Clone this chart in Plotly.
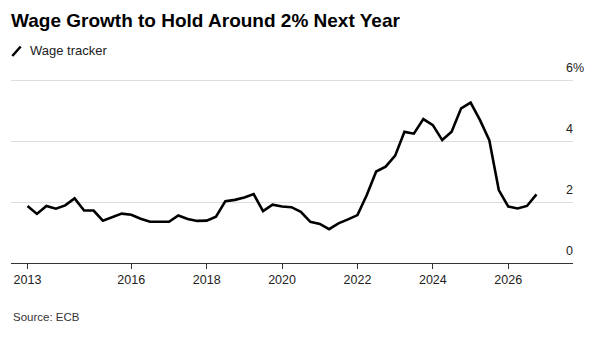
import pandas as pd
import plotly.graph_objects as go

# Quarterly euro-area wage tracker (% y/y), including forward-looking quarters
quarters = pd.date_range(start="2013-04-01", periods=55, freq="QS")
wage_tracker = [
    1.87, 1.61, 1.87, 1.78, 1.89, 2.12, 1.72, 1.72, 1.39, 1.50,
    1.62, 1.58, 1.45, 1.35, 1.35, 1.35, 1.56, 1.44, 1.38, 1.39,
    1.52, 2.03, 2.07, 2.15, 2.26, 1.70, 1.91, 1.85, 1.83, 1.68,
    1.35, 1.28, 1.11, 1.30, 1.43, 1.57, 2.23, 3.00, 3.16, 3.52,
    4.30, 4.24, 4.72, 4.52, 4.03, 4.30, 5.07, 5.26, 4.69, 4.03,
    2.39, 1.85, 1.79, 1.87, 2.25,
]

x_tick_dates = ["2013-04-01", "2016-01-01", "2018-01-01", "2020-01-01",
                "2022-01-01", "2024-01-01", "2026-01-01"]
x_tick_labels = ["2013", "2016", "2018", "2020", "2022", "2024", "2026"]
y_tick_values = [0, 2, 4, 6]
y_tick_labels = ["0", "2", "4", "6%"]

FONT = "Liberation Sans"
W, H = 597, 338
L, R, T, B = 11, 24, 76, 75
plot_w = W - L - R
plot_h = H - T - B
# a little headroom above 6% so the top gridline is drawn inside the plot
px_per_unit = 30.5
y_top = 6 + (80 - T) / px_per_unit

fig = go.Figure()
fig.add_trace(go.Scatter(
    x=quarters, y=wage_tracker, mode="lines", name="Wage tracker",
    line=dict(color="#000000", width=2.6), showlegend=False,
))

fig.update_layout(
    width=W, height=H,
    margin=dict(l=L, r=R, t=T, b=B),
    paper_bgcolor="white", plot_bgcolor="white",
    font=dict(family=FONT, color="#222222"),
    title=dict(
        text="<b>Wage Growth to Hold Around 2% Next Year</b>",
        font=dict(family=FONT, size=19, color="#000000"),
        x=L / W, xanchor="left", xref="container",
        y=1 - 14 / H, yanchor="top", yref="container",
    ),
    xaxis=dict(
        type="date",
        range=["2012-10-23", "2027-09-20"],
        tickvals=x_tick_dates, ticktext=x_tick_labels,
        ticks="outside", ticklen=5, tickcolor="#333333", tickwidth=1,
        showline=True, linecolor="#333333", linewidth=1,
        showgrid=False, zeroline=False,
        tickfont=dict(family=FONT, size=12.5, color="#222222"),
    ),
    yaxis=dict(
        side="right", range=[0, y_top],
        tickvals=y_tick_values, ticktext=y_tick_labels,
        showgrid=True, gridcolor="#dddddd", gridwidth=1,
        zeroline=False, showline=False, ticks="",
        ticklabelshift=-12, ticklabelstandoff=-8,
        tickfont=dict(family=FONT, size=12.5, color="#222222"),
    ),
    showlegend=False,
)

# Legend key: slanted stroke followed by series name
fig.add_shape(
    type="line", xref="paper", yref="paper",
    x0=(12.3 - L) / plot_w, y0=(H - B - 56) / plot_h,
    x1=(20.7 - L) / plot_w, y1=(H - B - 46.5) / plot_h,
    line=dict(color="#000000", width=2.5),
)
fig.add_annotation(
    text="Wage tracker", xref="paper", yref="paper",
    x=(28 - L) / plot_w, y=(H - B - 51) / plot_h,
    xanchor="left", yanchor="middle", showarrow=False,
    font=dict(family=FONT, size=13, color="#222222"),
)
fig.add_annotation(
    text="Source: ECB", xref="paper", yref="paper",
    x=0, y=(H - B - 317) / plot_h,
    xanchor="left", yanchor="middle", showarrow=False,
    font=dict(family=FONT, size=11.5, color="#333333"),
)

fig.write_html("out.html")
